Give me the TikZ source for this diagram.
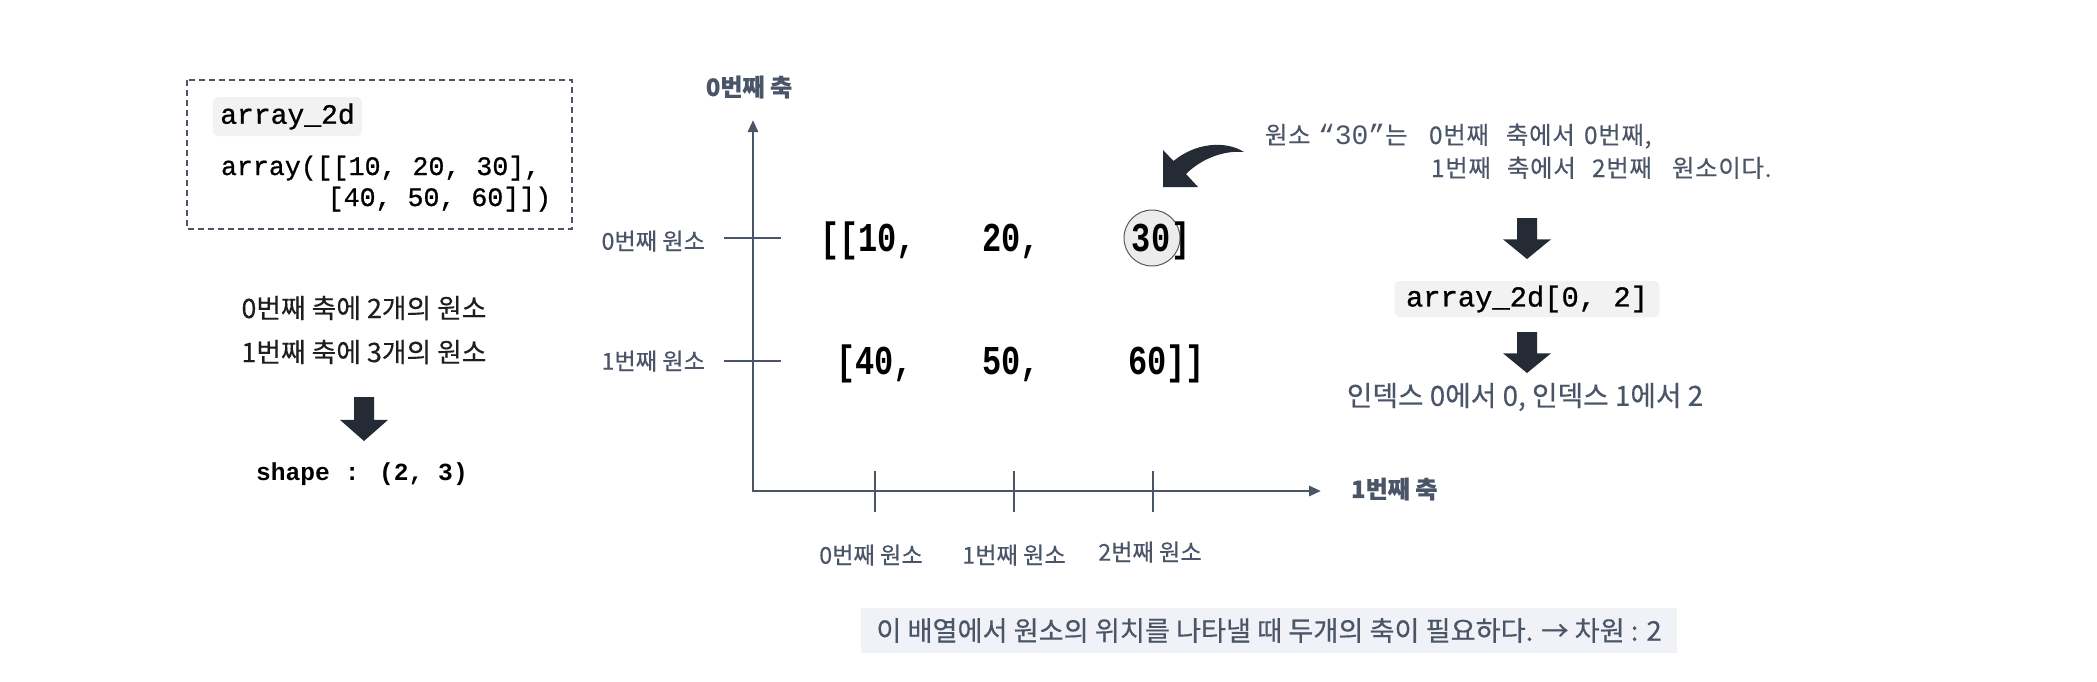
\documentclass[tikz,border=0pt]{standalone}
\usepackage{fontspec}
\setmainfont{Noto Sans CJK KR}
\newfontfamily\kr[FakeBold=0.4]{Noto Sans CJK KR}
\newfontfamily\krsp[FakeBold=0.3,LetterSpace=3]{Noto Sans CJK KR}
\newfontfamily\cmono[FakeBold=0.9]{Liberation Mono}
\newfontfamily\cmonob{Liberation Mono}
\newfontfamily\bigmono[FakeStretch=0.78]{Liberation Mono}
\usetikzlibrary{arrows.meta}
\definecolor{slate}{HTML}{4A5568}
\definecolor{ink}{HTML}{252B35}
\definecolor{txtblack}{HTML}{1E1E1E}
\definecolor{codebg}{HTML}{F2F2F2}
\definecolor{bannerbg}{HTML}{F1F2F7}
\definecolor{circfill}{HTML}{ECECEE}
\newcommand{\blockdown}[3]{% x, ytop, total height
  \fill[ink] (#1-10,#2) -- (#1+10,#2) -- (#1+10,#2+#3*0.52) -- (#1+24,#2+#3*0.52)
    -- (#1,#2+#3) -- (#1-24,#2+#3*0.52) -- (#1-10,#2+#3*0.52) -- cycle;}
\begin{document}
\begin{tikzpicture}[x=0.5pt,y=-0.5pt,
  txt/.style={inner sep=0pt, outer sep=0pt},
  axis/.style={draw=slate, line width=1.4pt, line join=miter},
  tickline/.style={draw=slate, line width=0.8pt},
  axlabel/.style={txt, text=slate, font=\kr\bfseries\fontsize{12pt}{14pt}\selectfont},
  ticklabel/.style={txt, text=slate, font=\kr\fontsize{11.6pt}{13pt}\selectfont},
  rowtxt/.style={txt, text=black, font=\bigmono\bfseries\fontsize{20.5pt}{22pt}\selectfont},
  codebox/.style={fill=codebg, rounded corners=2.5pt, inner sep=0pt},
  lefttxt/.style={txt, text=txtblack, font=\kr\fontsize{13.4pt}{15pt}\selectfont},
  notetxt/.style={txt, anchor=base west, text=slate, font=\krsp\fontsize{12.2pt}{15pt}\selectfont},
]
\useasboundingbox (0,0) rectangle (2097,681);

% dashed code box
\draw[slate, line width=0.75pt, dash pattern=on 3pt off 2pt] (187,80) rectangle (572,229);
\node[codebox, minimum width=74.5pt, minimum height=19.5pt,
      font=\cmono\fontsize{14pt}{16pt}\selectfont] (a2d) at (287.5,116.5) {array\_2d};
\node[txt, anchor=base west, font=\cmono\fontsize{13.3pt}{15pt}\selectfont] (arr1) at (221,175) {array([[10, 20, 30],};
\node[txt, anchor=base west, font=\cmono\fontsize{13.3pt}{15pt}\selectfont] (arr2) at (216,206) {\phantom{array([}[40, 50, 60]])};

% left description
\node[lefttxt] (d0) at (364,308) {0번째 축에 2개의 원소};
\node[lefttxt] (d1) at (364,352) {1번째 축에 3개의 원소};
\blockdown{364}{397}{44}
\node[txt, font=\cmonob\bfseries\fontsize{12.3pt}{14pt}\selectfont] (shape) at (362,474) {shape : (2, 3)};

% axes
\coordinate (O) at (753,491);
\coordinate (ytip) at (753,120);
\coordinate (xtip) at (1321,491);
\draw[axis, {Triangle[length=6pt,width=5pt]}-{Triangle[length=6pt,width=5pt]}] (ytip) -- (O) -- (xtip);
\draw[tickline] (724,238) -- (781,238);
\draw[tickline] (724,361) -- (781,361);
\draw[tickline] (875,471) -- (875,512);
\draw[tickline] (1014,471) -- (1014,512);
\draw[tickline] (1153,471) -- (1153,512);

\node[axlabel] (ylab) at (749,87) {0번째 축};
\node[axlabel, anchor=west] (xlab) at (1351,489) {1번째 축};
\node[ticklabel, anchor=east] (r0) at (705,241) {0번째 원소};
\node[ticklabel, anchor=east] (r1) at (705,361) {1번째 원소};
\node[ticklabel] (k0) at (871,555) {0번째 원소};
\node[ticklabel] (k1) at (1014,555) {1번째 원소};
\node[ticklabel] (k2) at (1150,552) {2번째 원소};

% array rows
\node[rowtxt, anchor=base west] (e00) at (820,251) {[[10,};
\node[rowtxt, anchor=base west] (e01) at (982,251) {20,};
\node[circle, draw=black!65, fill=circfill, line width=0.5pt, minimum size=28pt, inner sep=0pt] (e02) at (1152,238) {};
\node[rowtxt, anchor=base] (e02t) at (1151,251) {30};
\node[rowtxt, anchor=base west] (e02b) at (1171,251) {]};
\node[rowtxt, anchor=base west] (e10) at (836,374) {[40,};
\node[rowtxt, anchor=base west] (e11) at (982,374) {50,};
\node[rowtxt, anchor=base west] (e12) at (1128,374) {60]]};

% curved arrow
\fill[ink] (1244,152) .. controls (1225,140) and (1195,143) .. (1173.5,161) -- (1163,150)
  -- (1163,187) -- (1198,187) -- (1186,174) .. controls (1200,160) and (1222,150) .. (1244,152) -- cycle;

% annotation (word by word, monospace-like layout)
\node[notetxt] (n1a) at (1265,144) {원소};
\node[notetxt] (n1b) at (1318,144) {{\cmonob\fontsize{14pt}{15pt}\selectfont “30”}는};
\node[notetxt] (n1c) at (1429,144) {0번째};
\node[notetxt] (n1d) at (1506,144) {축에서};
\node[notetxt] (n1e) at (1584,144) {0번째,};
\node[notetxt] (n2a) at (1431,177) {1번째};
\node[notetxt] (n2b) at (1507,177) {축에서};
\node[notetxt] (n2c) at (1592,177) {2번째};
\node[notetxt] (n2d) at (1672,177) {원소이다.};

\blockdown{1527}{218}{41}
\node[codebox, minimum width=132.5pt, minimum height=18pt,
      font=\cmono\fontsize{14.4pt}{16pt}\selectfont] (idx) at (1527,299) {array\_2d[0, 2]};
\blockdown{1527}{332}{41}
\node[txt, text=slate, font=\kr\fontsize{13.9pt}{15pt}\selectfont] (res) at (1525,397) {인덱스 0에서 0, 인덱스 1에서 2};

% banner
\node[fill=bannerbg, minimum width=408pt, minimum height=22.5pt, inner sep=0pt,
      text=slate, font=\kr\fontsize{13.6pt}{15pt}\selectfont] (banner) at (1269,630.5)
  {이 배열에서 원소의 위치를 나타낼 때 두개의 축이 필요하다. → 차원 : 2};
\end{tikzpicture}
\end{document}
